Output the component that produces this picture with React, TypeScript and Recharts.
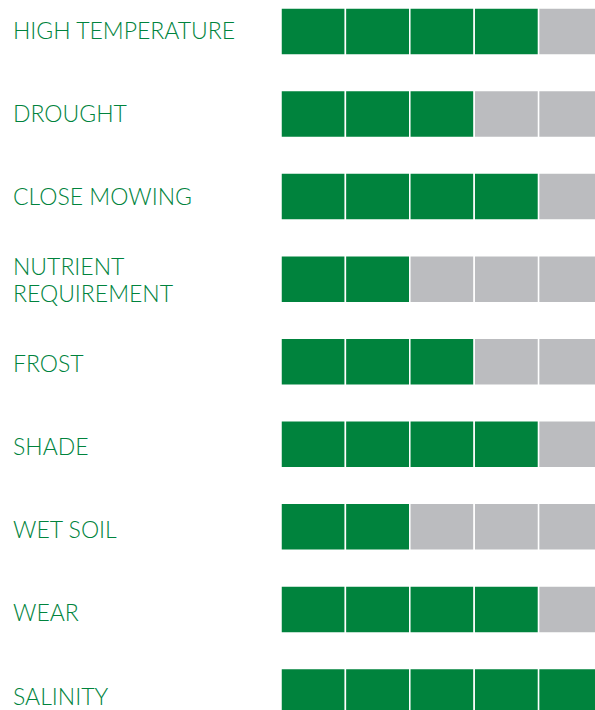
import { BarChart, Bar, XAxis, YAxis, Cell } from "recharts";

const categories = [
  "HIGH TEMPERATURE",
  "DROUGHT",
  "CLOSE MOWING",
  "NUTRIENT\nREQUIREMENT",
  "FROST",
  "SHADE",
  "WET SOIL",
  "WEAR",
  "SALINITY",
];
const ratings = [4, 3, 4, 2, 3, 4, 2, 4, 5];
const segments = ["s1", "s2", "s3", "s4", "s5"];

const GREEN = "#00833d";
const GREY = "#bbbcbf";

const data = categories.map((name, i) => {
  const row: Record<string, number | string> = { name, rating: ratings[i] };
  segments.forEach((s) => (row[s] = 1));
  return row;
});

function LabelTick({ y, payload, index }: any) {
  const lines = String(payload.value).split("\n");
  const lh = 27;
  // labels drift slightly lower than the bars further down the list
  const drift = -1.5 + 0.68 * (index || 0);
  const start = y + drift - ((lines.length - 1) * lh) / 2;
  return (
    <text
      x={5}
      y={start}
      fill={GREEN}
      fontSize={23}
      fontFamily="Lato, 'Open Sans', sans-serif"
      fontWeight={300}
      textAnchor="start"
      dominantBaseline="central"
    >
      {lines.map((l, i) => (
        <tspan key={i} x={5} dy={i === 0 ? 0 : lh}>
          {l}
        </tspan>
      ))}
    </text>
  );
}

export default function App() {
  return (
    <div
      style={{
        position: "fixed",
        top: 0,
        left: 0,
        width: 595,
        height: 710,
        overflow: "hidden",
        background: "#fff",
      }}
    >
      <div style={{ position: "absolute", top: -10, left: 8 }}>
        <BarChart
          width={595}
          height={743}
          data={data}
          layout="vertical"
          margin={{ top: 0, right: 0, bottom: 0, left: 0 }}
        >
          <XAxis type="number" domain={[0, 5]} hide />
          <YAxis
            type="category"
            dataKey="name"
            width={273}
            axisLine={false}
            tickLine={false}
            tick={<LabelTick />}
          />
          {segments.map((key, si) => (
            <Bar
              key={key}
              dataKey={key}
              stackId="a"
              barSize={47}
              stroke="#ffffff"
              strokeWidth={1.5}
              isAnimationActive={false}
            >
              {data.map((d, ri) => (
                <Cell key={ri} fill={si < (d.rating as number) ? GREEN : GREY} />
              ))}
            </Bar>
          ))}
        </BarChart>
      </div>
    </div>
  );
}
